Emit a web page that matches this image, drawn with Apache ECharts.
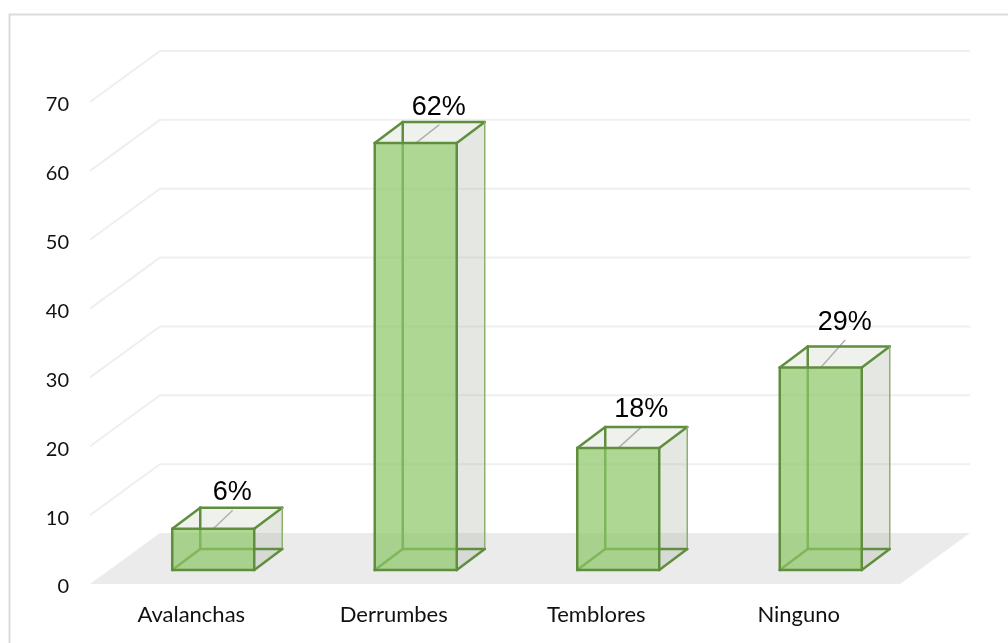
<!DOCTYPE html>
<html>
<head>
<meta charset="utf-8">
<style>html,body{margin:0;padding:0;background:#fff}#c{width:1008px;height:643px}</style>
<script src="https://cdn.jsdelivr.net/npm/echarts@6/dist/echarts.min.js"></script>
</head>
<body>
<div id="c"></div>
<script>
const categories = ['Avalanchas', 'Derrumbes', 'Temblores', 'Ninguno'];
const values = [6, 62, 17.7, 29.4];
const valueLabels = ['6%', '62%', '18%', '29%'];
const yTicks = [0, 10, 20, 30, 40, 50, 60, 70];

// 3D projection, in pixels
const WALL = [70, -51];      // floor depth
const BAR_FRONT = [22, -14]; // bar front plane, from the axis plane
const BAR_DEPTH = [28, -21]; // bar depth
const BAR_RATIO = 0.405;
const LEADER = [[19, -18], [23, -18], [23, -21], [24, -27]];

const chart = echarts.init(document.getElementById('c'), null, {renderer: 'canvas'});

const EDGE = '#5f8f3e';
const poly = (points, fill, z2) => ({type: 'polygon', z2, shape: {points}, style: {fill, stroke: null}});
const seg = (a, b, stroke, width, z2) => ({type: 'line', z2, shape: {x1: a[0], y1: a[1], x2: b[0], y2: b[1]},
  style: {stroke, lineWidth: width, lineCap: 'round', fill: null}});

function renderBar(params, api) {
  const i = api.value(0), v = api.value(1);
  const c0 = api.coord([i, 0]), c1 = api.coord([i, v]);
  const w = api.size([1, 0])[0] * BAR_RATIO;
  const xl = c0[0] + BAR_FRONT[0] - w / 2, xr = xl + w;
  const yb = c0[1] + BAR_FRONT[1], yt = c1[1] + BAR_FRONT[1];
  const [dx, dy] = BAR_DEPTH;
  const fbl = [xl, yb], fbr = [xr, yb], ftl = [xl, yt], ftr = [xr, yt];
  const bbl = [xl + dx, yb + dy], bbr = [xr + dx, yb + dy], btl = [xl + dx, yt + dy], btr = [xr + dx, yt + dy];
  const base = [(xl + xr) / 2, yt];
  const tip = [base[0] + LEADER[i][0], base[1] + LEADER[i][1]];
  return {
    type: 'group',
    children: [
      poly([ftl, ftr, btr, btl], 'rgba(175,185,165,0.2)', 1),
      poly([fbr, bbr, btr, ftr], 'rgba(170,180,160,0.3)', 2),
      seg(btl, bbl, EDGE, 2.5, 3),
      seg(bbl, bbr, EDGE, 2.5, 3),
      seg(fbl, bbl, EDGE, 2.5, 3),
      seg(base, tip, '#b0b0b0', 1.5, 4),
      poly([ftl, ftr, fbr, fbl], 'rgba(139,198,102,0.7)', 5),
      seg(ftl, btl, EDGE, 2.5, 6),
      seg(btl, btr, EDGE, 2.5, 6),
      seg(btr, ftr, EDGE, 2.5, 6),
      seg(btr, bbr, '#8db070', 1.5, 6),
      seg(bbr, fbr, EDGE, 2.5, 6),
      seg(ftl, ftr, EDGE, 2.5, 6),
      seg(ftr, fbr, EDGE, 2.5, 6),
      seg(fbr, fbl, EDGE, 2.5, 6),
      seg(fbl, ftl, EDGE, 2.5, 6),
      {type: 'text', z2: 7, style: {x: tip[0], y: tip[1] - 18, text: valueLabels[i], fill: '#000',
        font: '27px "Liberation Sans"', align: 'center', verticalAlign: 'middle'}}
    ]
  };
}

function plotEnds(api, v) {
  const half = api.size([1, 0])[0] / 2;
  const first = api.coord([0, v]), last = api.coord([categories.length - 1, v]);
  return [[first[0] - half, first[1]], [last[0] + half, last[1]]];
}

function renderWallLine(params, api) {
  const [a, r] = plotEnds(api, api.value(0));
  const b = [a[0] + WALL[0], a[1] + WALL[1]];
  const e = [r[0] + WALL[0], r[1] + WALL[1]];
  return {type: 'polyline', shape: {points: [a, b, e]},
    style: {stroke: '#efefef', lineWidth: 2, fill: null}};
}

function renderFloor(params, api) {
  const [a, r] = plotEnds(api, 0);
  return {type: 'polygon', shape: {points: [a, r, [r[0] + WALL[0], r[1] + WALL[1]], [a[0] + WALL[0], a[1] + WALL[1]]]},
    style: {fill: '#ebebeb'}};
}

chart.setOption({
  animation: false,
  backgroundColor: '#ffffff',
  graphic: [{type: 'polyline', silent: true, z: -1,
    shape: {points: [[9.5, 643], [9.5, 14.5], [1008, 14.5]]},
    style: {stroke: '#dcdcdc', lineWidth: 2, fill: null}}],
  grid: {left: 90, right: 108, top: 102, bottom: 59},
  xAxis: {type: 'category', data: categories,
    axisLine: {show: false}, axisTick: {show: false}, splitLine: {show: false},
    axisLabel: {color: '#111', fontFamily: 'Lato', fontSize: 22, margin: 20}},
  yAxis: {type: 'value', min: 0, max: 70, interval: 10,
    axisLine: {show: false}, axisTick: {show: false}, splitLine: {show: false},
    axisLabel: {color: '#111', fontFamily: 'Lato', fontSize: 20, margin: 21,
      verticalAlign: 'top', lineHeight: 6}},
  series: [
    {type: 'custom', silent: true, z: 1, clip: false, renderItem: renderWallLine,
      encode: {y: 0}, data: yTicks.slice(1).map(v => [v])},
    {type: 'custom', silent: true, z: 2, clip: false, renderItem: renderFloor, data: [[0]]},
    {type: 'custom', silent: true, z: 3, clip: false, renderItem: renderBar,
      encode: {x: 0, y: 1}, data: values.map((v, i) => [i, v])}
  ]
});
</script>
</body>
</html>
